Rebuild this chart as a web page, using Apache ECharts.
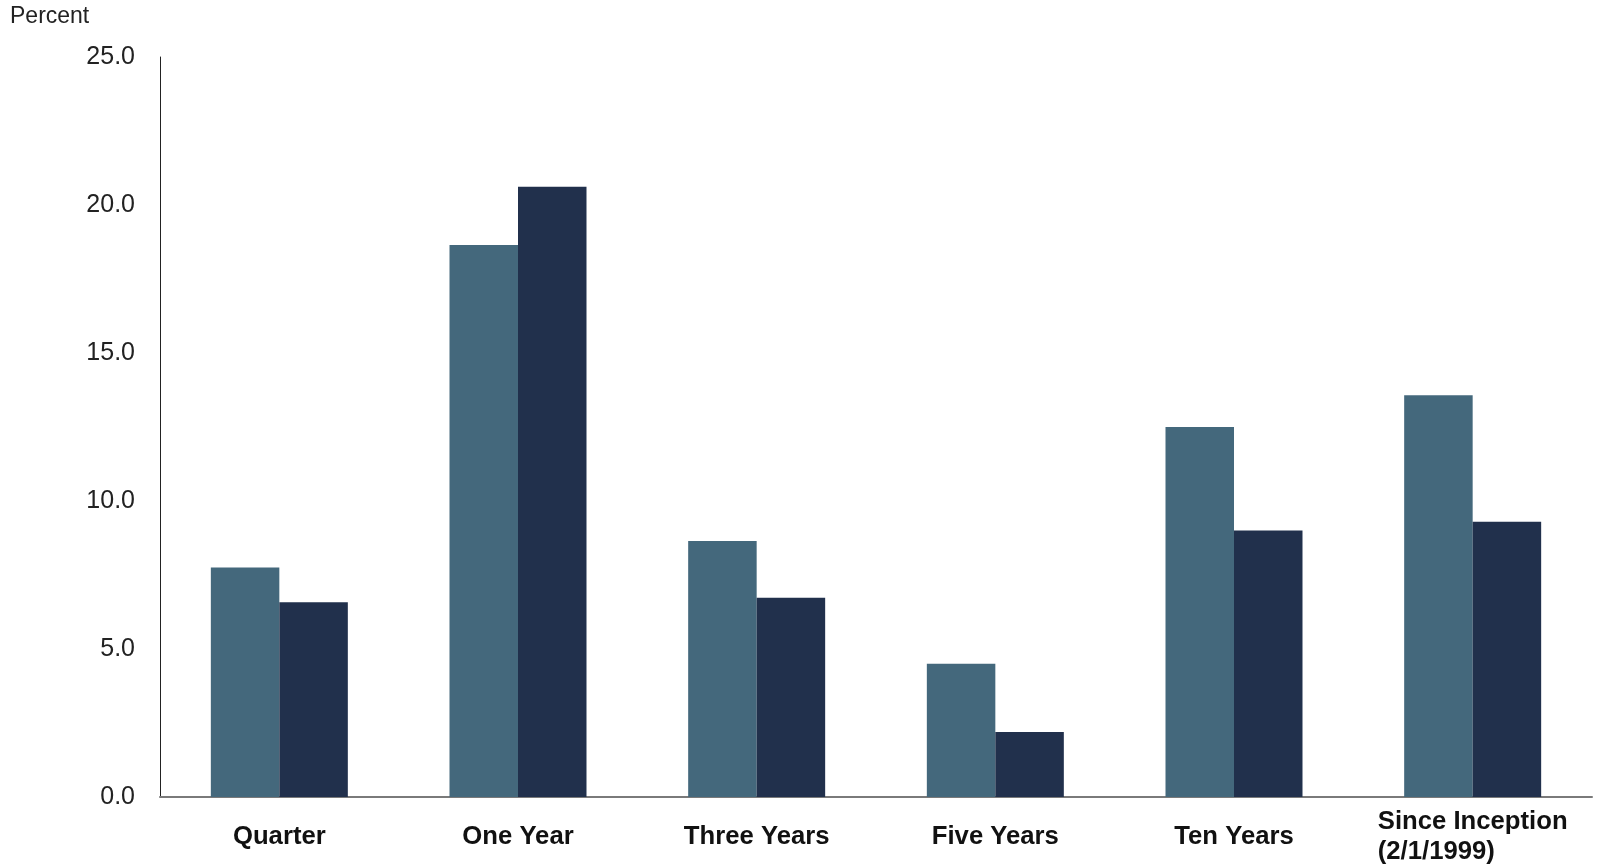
<!DOCTYPE html>
<html>
<head>
<meta charset="utf-8">
<script src="https://cdn.jsdelivr.net/npm/echarts@6/dist/echarts.min.js"></script>
<style>
html,body{margin:0;padding:0;background:#fff;}
#chart{width:1598px;height:868px;}
</style>
</head>
<body>
<div id="chart"></div>
<script>
const categories = ['Quarter', 'One Year', 'Three Years', 'Five Years', 'Ten Years', 'Since Inception\n(2/1/1999)'];
const seriesA = [7.75, 18.65, 8.65, 4.5, 12.5, 13.57];
const seriesB = [6.58, 20.62, 6.73, 2.2, 9.0, 9.3];
const yTicks = { min: 0, max: 25, interval: 5 };

const chart = echarts.init(document.getElementById('chart'));
chart.setOption({
  backgroundColor: '#ffffff',
  animation: false,
  textStyle: { fontFamily: 'Liberation Sans' },
  graphic: [{
    type: 'text', left: 10, top: 5,
    style: { text: 'Percent', fontSize: 23, fill: '#222', fontFamily: 'Liberation Sans' }
  }],
  grid: { left: 160, right: 6, top: 57, bottom: 71 },
  xAxis: {
    type: 'category',
    data: categories,
    axisLine: { lineStyle: { color: '#7a7a7a', width: 2 } },
    axisTick: { show: false },
    axisLabel: {
      color: '#111', fontSize: 25.7, fontWeight: 'bold', margin: 40,
      verticalAlign: 'middle', lineHeight: 30, interval: 0,
      formatter: v => v.split('\n').map(s => '{l|' + s + '}').join('\n'),
      rich: { l: { align: 'left', fontSize: 25.7, fontWeight: 'bold', color: '#111', lineHeight: 30, fontFamily: 'Liberation Sans' } }
    }
  },
  yAxis: {
    type: 'value',
    min: yTicks.min, max: yTicks.max, interval: yTicks.interval,
    axisLine: { show: true, lineStyle: { color: '#222', width: 1 } },
    axisTick: { show: false },
    splitLine: { show: false },
    axisLabel: { color: '#222', fontSize: 25, margin: 25, formatter: v => v.toFixed(1) }
  },
  series: [
    { type: 'bar', data: seriesA, itemStyle: { color: '#44687C' }, barGap: '0%', barCategoryGap: '42.6%' },
    { type: 'bar', data: seriesB, itemStyle: { color: '#21304C' }, barGap: '0%', barCategoryGap: '42.6%' }
  ]
});
</script>
</body>
</html>
